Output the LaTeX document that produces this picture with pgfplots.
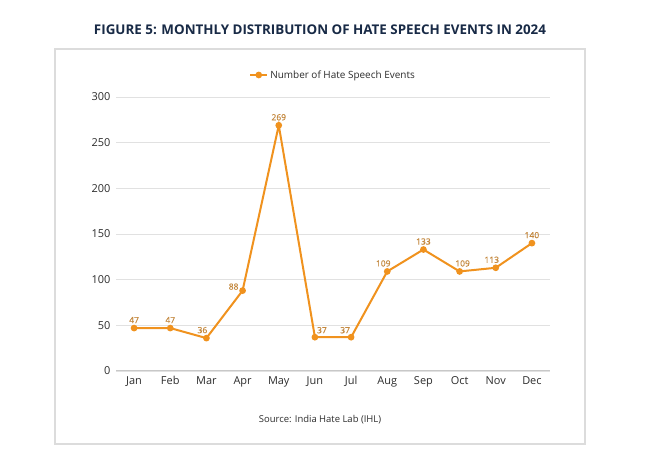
\documentclass[border=0pt]{standalone}
\usepackage{fontspec}
\setmainfont{Open Sans}
\newfontface\labfont{Open Sans}[FakeBold=0.5]
\usepackage{pgfplots}
\pgfplotsset{compat=1.18}
\definecolor{lineor}{RGB}{240,146,30}
\definecolor{labor}{RGB}{196,136,62}
\definecolor{navy}{RGB}{24,42,70}
\definecolor{tick}{RGB}{45,45,45}
\definecolor{gridc}{RGB}{225,225,225}
\definecolor{boxc}{RGB}{220,220,220}
\begin{document}
\begin{tikzpicture}[x=1bp,y=1bp]
\fill[white] (0,0) rectangle (645,456);
\draw[boxc, line width=1.2bp] (55,12) rectangle (585,407);
\node[text=navy, inner sep=0pt] at (320,426) {\resizebox{452bp}{!}{\fontsize{12}{14}\selectfont\bfseries FIGURE 5: MONTHLY DISTRIBUTION OF HATE SPEECH EVENTS IN 2024}};
\node[text=tick, font=\fontsize{9.5}{11}\selectfont] at (320,36) {Source: India Hate Lab (IHL)};
\begin{axis}[
  at={(116bp,85bp)}, anchor=south west, scale only axis,
  width=434bp, height=274bp,
  xmin=-0.5, xmax=11.5, ymin=0, ymax=300,
  ytick={0,50,...,300},
  xtick={0,...,11},
  xticklabels={Jan,Feb,Mar,Apr,May,Jun,Jul,Aug,Sep,Oct,Nov,Dec},
  /pgf/number format/assume math mode=true,
  axis x line*=bottom, axis y line*=left,
  y axis line style={draw=none},
  x axis line style={draw={rgb,255:red,200;green,200;blue,200}, line width=1bp},
  major tick length=0pt,
  ymajorgrids, grid style={gridc, line width=0.8bp},
  ticklabel style={text=tick, font=\fontsize{11}{13}\selectfont},
  yticklabel style={xshift=-2bp},
  xticklabel style={yshift=-2bp},
  legend style={at={(0.5,1)}, anchor=center, yshift=22bp, draw=none, fill=none,
    font=\fontsize{10}{12}\selectfont, text=tick},
  legend image post style={line width=2bp},
]
\addplot[lineor, line width=2bp, mark=*, mark size=2.3bp, mark options={fill=lineor, draw=lineor},
  nodes near coords,
  visualization depends on={\thisrow{dx}\as\dx},
  visualization depends on={\thisrow{dy}\as\dy},
  every node near coord/.append style={anchor=center, xshift=\dx bp, yshift=\dy bp,
    text=labor, font=\fontsize{8.5}{9}\labfont, inner sep=0pt},
] table[x=x, y=y] {
x y dx dy
0 47 0 8
1 47 0 8
2 36 -4 8
3 88 -9 4
4 269 0 8
5 37 7 7
6 37 -6 7
7 109 -4 8
8 133 0 8
9 109 3 8
10 113 -4 8
11 140 0 8
};
\addlegendentry{Number of Hate Speech Events}
\end{axis}
\end{tikzpicture}
\end{document}
